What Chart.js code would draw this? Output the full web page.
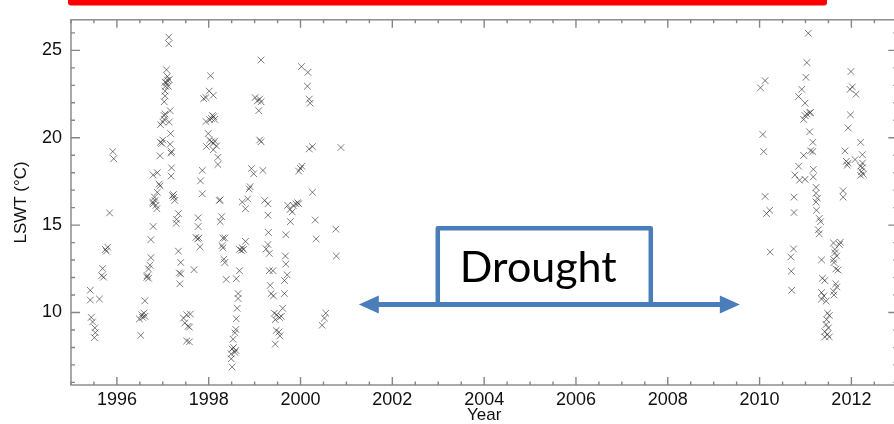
<!DOCTYPE html>
<html>
<head>
<meta charset="utf-8">
<title>LSWT</title>
<script src="https://cdn.jsdelivr.net/npm/chart.js@4.4.0/dist/chart.umd.min.js"></script>
<style>
  html, body { margin: 0; padding: 0; background: #fff; overflow: hidden; }
  canvas { display: block; }
</style>
</head>
<body>
<canvas id="chartLswt" width="903" height="424"></canvas>
<script>
// Lake surface water temperature observations, 1995-2001
const yearsEarly = [
  1995.42, 1995.42, 1995.62, 1995.44, 1995.47, 1995.52, 1995.53, 1995.51, 1995.67, 1995.69,
  1995.71, 1995.75, 1995.80, 1995.77, 1995.84, 1995.91, 1995.93, 1996.52, 1996.49, 1996.54,
  1996.59, 1996.61, 1996.56, 1996.61, 1996.65, 1996.69, 1996.66, 1996.69, 1996.72, 1996.74,
  1996.74, 1996.79, 1996.78, 1996.79, 1996.83, 1996.85, 1996.87, 1996.82, 1996.88, 1996.79,
  1996.88, 1996.92, 1996.94, 1996.94, 1996.95, 1997.00, 1996.98, 1996.95, 1997.00, 1997.03,
  1997.03, 1997.05, 1997.03, 1997.05, 1997.05, 1997.06, 1997.08, 1997.10, 1997.10, 1997.08,
  1997.14, 1997.12, 1997.05, 1997.13, 1997.13, 1997.16, 1997.14, 1997.17, 1997.16, 1997.18,
  1997.19, 1997.19, 1997.18, 1997.21, 1997.24, 1997.26, 1997.23, 1997.34, 1997.30, 1997.29,
  1997.34, 1997.39, 1997.36, 1997.39, 1997.37, 1997.45, 1997.48, 1997.55, 1997.60, 1997.52,
  1997.58, 1997.52, 1997.58, 1997.68, 1997.77, 1997.77, 1997.79, 1997.72, 1997.76, 1997.81,
  1997.86, 1997.82, 1997.86, 1997.89, 1997.94, 1998.04, 1998.01, 1998.10, 1997.94, 1998.02,
  1998.08, 1998.11, 1998.06, 1998.13, 1997.99, 1998.02, 1998.06, 1998.10, 1998.13, 1997.95,
  1998.17, 1998.10, 1998.20, 1998.20, 1998.23, 1998.25, 1998.28, 1998.25, 1998.31, 1998.35,
  1998.29, 1998.31, 1998.33, 1998.35, 1998.38, 1998.64, 1998.64, 1998.62, 1998.60, 1998.59,
  1998.57, 1998.53, 1998.51, 1998.57, 1998.54, 1998.49, 1998.51, 1998.49, 1998.59, 1998.60,
  1998.67, 1998.67, 1998.73, 1998.71, 1998.76, 1998.80, 1998.73, 1998.80, 1998.85, 1998.90,
  1998.88, 1998.93, 1998.98, 1999.01, 1999.06, 1999.11, 1999.14, 1999.09, 1999.14, 1999.11,
  1999.14, 1999.18, 1999.22, 1999.29, 1999.29, 1999.30, 1999.29, 1999.25, 1999.32, 1999.32,
  1999.40, 1999.34, 1999.36, 1999.41, 1999.43, 1999.48, 1999.54, 1999.45, 1999.58, 1999.61,
  1999.47, 1999.53, 1999.55, 1999.45, 1999.65, 1999.67, 1999.68, 1999.71, 1999.65, 1999.68,
  1999.72, 1999.77, 1999.82, 1999.78, 1999.84, 1999.90, 1999.96, 1999.94, 1999.96, 2000.03,
  2000.00, 2000.02, 2000.16, 2000.15, 2000.19, 2000.21, 2000.19, 2000.26, 2000.26, 2000.32,
  2000.34, 2000.55, 2000.52, 2000.47, 2000.77, 2000.78, 2000.88
];
const lswtEarly = [
  11.27, 10.71, 10.77, 9.72, 9.46, 9.12, 8.84, 8.56, 12.11, 12.52,
  12.02, 13.61, 13.74, 13.51, 15.70, 19.21, 18.80, 8.69, 9.63, 9.87,
  9.96, 9.78, 9.72, 10.67, 12.02, 11.96, 12.11, 12.49, 12.71, 13.14,
  14.17, 14.92, 16.32, 16.22, 16.41, 16.13, 15.94, 16.60, 16.88, 17.87,
  18.00, 17.35, 17.25, 18.97, 19.74, 19.87, 19.68, 20.75, 20.90, 21.27,
  21.05, 21.36, 22.06, 22.39, 22.67, 22.95, 23.14, 23.29, 23.51, 23.89,
  23.33, 22.95, 23.18, 25.76, 25.38, 21.55, 20.90, 20.24, 19.63, 19.12,
  19.21, 18.28, 17.81, 16.69, 16.60, 16.41, 16.75, 15.66, 15.33, 15.10,
  13.51, 12.86, 12.26, 12.21, 11.64, 9.68, 9.40, 9.21, 9.91, 9.87,
  9.16, 8.37, 8.32, 12.45, 15.42, 14.92, 14.26, 14.30, 14.21, 13.76,
  18.13, 17.53, 16.79, 22.24, 22.30, 23.55, 22.67, 22.43, 20.93, 21.03,
  21.27, 21.21, 21.10, 21.05, 20.24, 19.87, 19.77, 19.68, 19.81, 19.50,
  19.53, 19.31, 18.88, 18.47, 16.41, 16.45, 15.48, 15.20, 14.26, 14.26,
  13.83, 13.70, 13.05, 12.86, 11.89, 11.08, 10.80, 10.24, 9.64, 9.03,
  8.84, 8.47, 7.91, 7.72, 8.00, 7.35, 6.88, 7.63, 7.83, 11.93,
  12.39, 13.61, 13.70, 13.55, 13.61, 14.07, 16.32, 15.94, 16.50, 17.20,
  17.07, 18.24, 17.94, 22.30, 22.11, 22.21, 22.06, 21.55, 24.45, 19.87,
  19.77, 18.13, 16.41, 16.22, 15.57, 14.58, 13.89, 13.64, 13.38, 12.39,
  12.39, 11.55, 11.08, 10.95, 9.96, 9.87, 9.72, 9.59, 9.78, 10.24,
  8.97, 8.88, 8.66, 8.19, 11.08, 13.23, 12.77, 12.15, 11.83, 14.45,
  16.13, 15.89, 15.76, 15.20, 16.13, 16.22, 16.22, 16.28, 18.09, 18.37,
  18.24, 24.07, 23.74, 22.95, 22.21, 21.98, 19.36, 19.49, 16.88, 15.29,
  14.21, 9.96, 9.68, 9.27, 14.77, 13.23, 19.44
];

// Observations after the drought, 2010-2012
const yearsLate = [
  2010.02, 2010.12, 2010.07, 2010.09, 2010.12, 2010.15, 2010.22, 2010.23, 2010.75, 2010.75,
  2010.74, 2010.68, 2010.69, 2010.70, 2011.06, 2011.03, 2011.01, 2010.92, 2010.85, 2010.99,
  2011.03, 2011.09, 2010.96, 2011.11, 2010.99, 2011.09, 2011.16, 2011.16, 2011.11, 2010.96,
  2010.85, 2010.77, 2010.87, 2010.99, 2011.17, 2011.17, 2011.23, 2011.23, 2011.26, 2011.23,
  2011.24, 2011.30, 2011.33, 2011.28, 2011.30, 2011.35, 2011.37, 2011.42, 2011.35, 2011.40,
  2011.45, 2011.35, 2011.61, 2011.62, 2011.66, 2011.68, 2011.61, 2011.64, 2011.68, 2011.62,
  2011.66, 2011.71, 2011.74, 2011.76, 2011.64, 2011.61, 2011.48, 2011.52, 2011.46, 2011.45,
  2011.50, 2011.42, 2011.48, 2011.52, 2011.42, 2011.82, 2011.82, 2011.86, 2011.89, 2011.91,
  2011.93, 2011.93, 2011.98, 2011.97, 2012.02, 2012.10, 2011.99, 2012.08, 2012.20, 2012.24,
  2012.20, 2012.24, 2012.22, 2012.26, 2012.20, 2012.24
];
const lswtLate = [
  22.86, 23.27, 20.19, 19.21, 16.64, 15.66, 15.85, 13.46, 16.60, 15.72,
  13.64, 13.18, 12.36, 11.27, 25.98, 24.30, 23.46, 22.77, 22.36, 21.98,
  21.36, 21.42, 21.05, 21.45, 21.27, 20.34, 19.74, 19.21, 19.25, 18.99,
  18.37, 17.87, 17.57, 17.62, 18.19, 17.76, 17.16, 16.82, 16.54, 16.32,
  15.85, 15.38, 15.20, 14.73, 14.50, 13.01, 11.96, 11.83, 11.14, 10.95,
  10.65, 10.77, 11.21, 11.00, 11.64, 11.46, 13.98, 13.61, 13.23, 12.86,
  12.49, 12.43, 13.89, 14.02, 13.42, 13.04, 9.96, 9.83, 9.59, 9.31,
  9.12, 8.90, 8.75, 8.60, 8.60, 16.97, 16.60, 19.25, 18.65, 18.43,
  18.55, 20.56, 21.31, 22.77, 22.91, 22.49, 23.79, 18.75, 19.74, 19.03,
  18.37, 18.28, 18.06, 17.91, 17.85, 18.55
];

const yearTicks = [1996, 1998, 2000, 2002, 2004, 2006, 2008, 2010, 2012];
const lswtTicks = [10, 15, 20, 25];

// drought period annotation, in axis units
const droughtArrow = [2001.27, 2009.57];
const droughtBox = [2002.99, 2007.63];
const droughtLevel = [10.45, 14.82];

const points = yearsEarly.map((t, i) => ({ x: t, y: lswtEarly[i] }))
  .concat(yearsLate.map((t, i) => ({ x: t, y: lswtLate[i] })));

const axisGray = '#858585';
const annBlue = '#4a7ebb';
const labelFont = { family: '"Liberation Sans", Arial, sans-serif', size: 18 };

// closed frame with inward major/minor ticks on all four sides
const frameTicks = {
  id: 'frameTicks',
  beforeDatasetsDraw(chart) {
    const { ctx, chartArea: a, scales: { x, y } } = chart;
    ctx.save();
    ctx.strokeStyle = axisGray;
    ctx.lineWidth = 1.4;
    ctx.strokeRect(a.left, a.top, a.right - a.left, a.bottom - a.top);
    ctx.beginPath();
    for (let v = 1995; v <= 2013; v += 0.5) {
      const px = x.getPixelForValue(v);
      const len = yearTicks.includes(v) ? 8 : 3.5;
      ctx.moveTo(px, a.bottom); ctx.lineTo(px, a.bottom - len);
      ctx.moveTo(px, a.top); ctx.lineTo(px, a.top + len);
    }
    for (let v = 6; v <= 26; v++) {
      const py = y.getPixelForValue(v);
      const len = lswtTicks.includes(v) ? 9 : 4;
      ctx.moveTo(a.left, py); ctx.lineTo(a.left + len, py);
      ctx.moveTo(a.right, py); ctx.lineTo(a.right - len, py);
    }
    ctx.stroke();
    ctx.restore();
  }
};

// "Drought" box sitting on a double-headed arrow, plus the red strip at the top
const droughtMark = {
  id: 'droughtMark',
  afterDraw(chart) {
    const { ctx, scales: { x, y } } = chart;
    const x0 = x.getPixelForValue(droughtArrow[0]);
    const x1 = x.getPixelForValue(droughtArrow[1]);
    const bx0 = x.getPixelForValue(droughtBox[0]);
    const bx1 = x.getPixelForValue(droughtBox[1]);
    const yl = y.getPixelForValue(droughtLevel[0]);
    const yt = y.getPixelForValue(droughtLevel[1]);
    ctx.save();

    ctx.fillStyle = '#ff0000';
    ctx.beginPath();
    ctx.roundRect(68, -6, 759, 11.5, 3);
    ctx.fill();

    ctx.fillStyle = '#fff';
    ctx.fillRect(bx0, yt, bx1 - bx0, yl - yt);
    ctx.strokeStyle = annBlue;
    ctx.lineWidth = 4.5;
    ctx.lineJoin = 'round';
    ctx.beginPath();
    ctx.moveTo(bx0, yl);
    ctx.lineTo(bx0, yt);
    ctx.lineTo(bx1, yt);
    ctx.lineTo(bx1, yl);
    ctx.stroke();

    ctx.lineWidth = 5;
    ctx.beginPath();
    ctx.moveTo(x0 + 12, yl);
    ctx.lineTo(x1 - 12, yl);
    ctx.stroke();

    ctx.fillStyle = annBlue;
    ctx.beginPath();
    ctx.moveTo(x0, yl); ctx.lineTo(x0 + 20, yl - 9); ctx.lineTo(x0 + 20, yl + 9); ctx.closePath();
    ctx.moveTo(x1, yl); ctx.lineTo(x1 - 20, yl - 9); ctx.lineTo(x1 - 20, yl + 9); ctx.closePath();
    ctx.fill();

    ctx.fillStyle = '#000';
    ctx.font = '43px Lato, "Open Sans", sans-serif';
    ctx.textAlign = 'center';
    ctx.textBaseline = 'alphabetic';
    ctx.fillText('Drought', (bx0 + bx1) / 2 - 6, yl - 23);
    ctx.restore();
  }
};

new Chart(document.getElementById('chartLswt'), {
  type: 'scatter',
  data: {
    datasets: [{
      data: points,
      pointStyle: 'crossRot',
      pointRadius: 4.7,
      pointBorderWidth: 1,
      borderColor: 'rgba(45,45,45,0.62)',
      backgroundColor: 'rgba(0,0,0,0)'
    }]
  },
  options: {
    responsive: false,
    animation: false,
    events: [],
    layout: { padding: { top: 12, right: 2, left: 0, bottom: 0 } },
    plugins: { legend: { display: false }, tooltip: { enabled: false } },
    scales: {
      x: {
        type: 'linear',
        min: 1995,
        max: 2013,
        border: { display: false },
        grid: { display: false, drawTicks: false },
        afterBuildTicks: s => { s.ticks = yearTicks.map(v => ({ value: v })); },
        afterFit: s => { s.height = 39; },
        ticks: { callback: v => String(v), padding: 4, font: labelFont, color: '#111', maxRotation: 0, autoSkip: false },
        title: { display: true, text: 'Year', font: { family: labelFont.family, size: 17, lineHeight: 1 }, color: '#111', padding: 0 }
      },
      y: {
        min: 5.85,
        max: 26.75,
        border: { display: false },
        grid: { display: false, drawTicks: false },
        afterBuildTicks: s => { s.ticks = lswtTicks.map(v => ({ value: v })); },
        afterFit: s => { s.width = 71; },
        ticks: { callback: v => String(v), padding: 9, font: labelFont, color: '#111' },
        title: { display: true, text: 'LSWT (°C)', font: { family: labelFont.family, size: 17 }, color: '#111', padding: { top: 11, bottom: 0 } }
      }
    }
  },
  plugins: [frameTicks, droughtMark]
});
</script>
</body>
</html>
